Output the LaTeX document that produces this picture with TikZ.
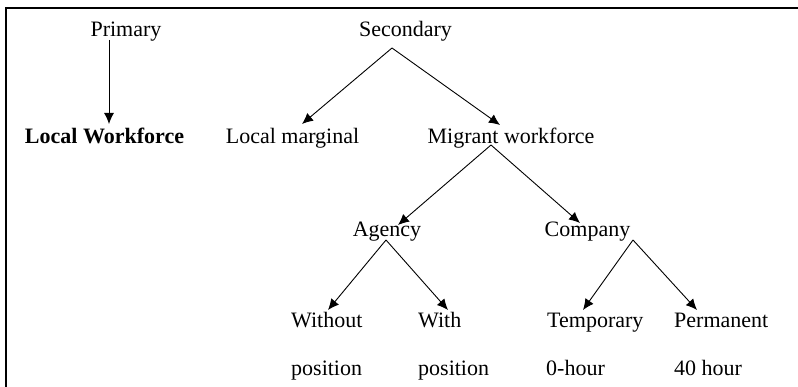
\documentclass[tikz,border=0pt]{standalone}
\usepackage{fontspec}
\setmainfont{Liberation Serif}
\usetikzlibrary{arrows.meta,calc,positioning}
\tikzset{
  lbl/.style={inner sep=0pt, anchor=base, font=\fontsize{22}{26}\selectfont},
  lblb/.style={lbl, font=\fontsize{22}{26}\selectfont\bfseries},
  leaf/.style={lbl, anchor=base west},
  arr/.style={-{Latex[length=11pt,width=10pt]}, line width=0.9pt},
  frame/.style={line width=1.6pt}
}

\begin{document}
\begin{tikzpicture}[x=1pt,y=-1pt]
  \useasboundingbox (0,0) rectangle (798,387);
  \draw[frame] (6,387) -- (6,8) -- (798,8);

  \node[lbl] (primary) at (126,37) {Primary};
  \node[lbl] (secondary) at (405.5,37) {Secondary};

  \node[lblb] (lwf) at (104.5,144) {Local Workforce};
  \node[lbl] (lmarg) at (292.5,144) {Local marginal};
  \node[lbl] (migrant) at (511,144) {Migrant workforce};

  \node[lbl] (agency) at (387,237) {Agency};
  \node[lbl] (company) at (587.5,237) {Company};

  \node[leaf] (without) at (291,328) {Without};
  \node[leaf] (with) at (418,328) {With};
  \node[leaf] (temp) at (547,328) {Temporary};
  \node[leaf] (perm) at (674,328) {Permanent};

  \node[leaf] (withoutpos) at (291,375) {position};
  \node[leaf] (withpos) at (418,375) {position};
  \node[leaf] (zerohr) at (546,375) {0-hour};
  \node[leaf] (fortyhr) at (674,375) {40 hour};

  \coordinate (secfork) at ($(secondary.base)+(-13.5,11)$);
  \coordinate (migfork) at ($(migrant.base)+(-20,1)$);
  \coordinate (agfork) at ($(agency.base)+(-1,3)$);
  \coordinate (cofork) at ($(company.base)+(45.5,3)$);

  \draw[arr] ($(primary.base)+(-17,3)$) -- ($(lwf.base)+(4.5,-20)$);
  \draw[arr] (secfork) -- ($(lmarg.base)+(9.5,-20)$);
  \draw[arr] (secfork) -- ($(migrant.base)+(-11,-19)$);
  \draw[arr] (migfork) -- ($(agency.base)+(11,-12)$);
  \draw[arr] (migfork) -- ($(company.base)+(-7.5,-14)$);
  \draw[arr] (agfork) -- ($(without.base west)+(37,-18)$);
  \draw[arr] (agfork) -- ($(with.base west)+(30,-18)$);
  \draw[arr] (cofork) -- ($(temp.base west)+(36,-18)$);
  \draw[arr] (cofork) -- ($(perm.base west)+(23,-18)$);
\end{tikzpicture}
\end{document}
